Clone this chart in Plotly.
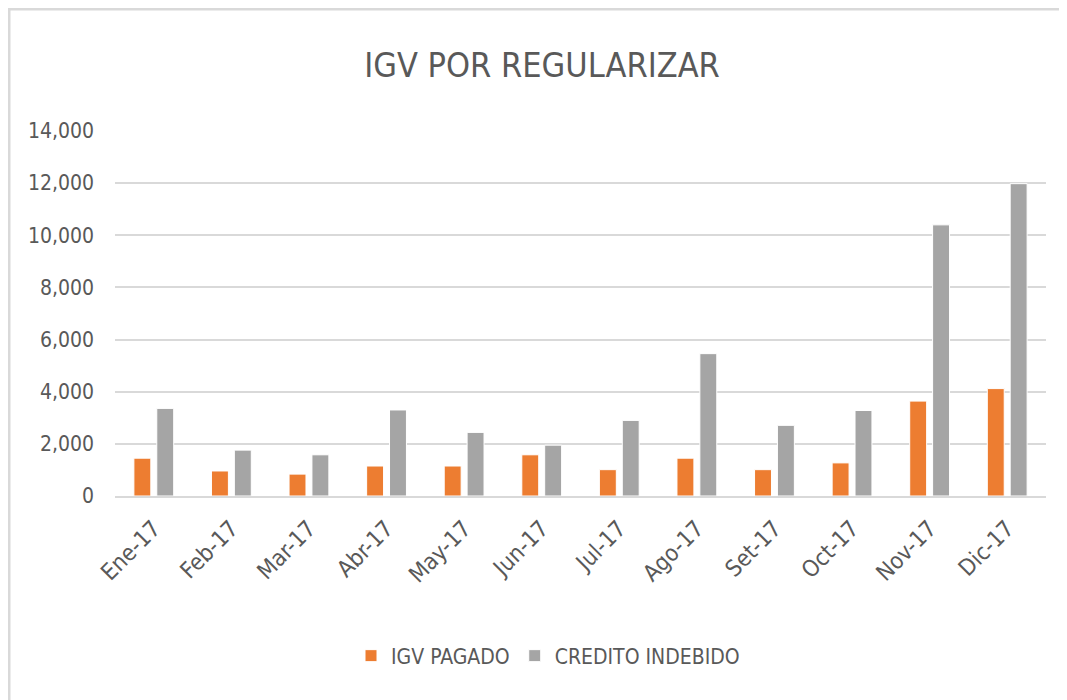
import plotly.graph_objects as go

months = ["Ene-17", "Feb-17", "Mar-17", "Abr-17", "May-17", "Jun-17",
          "Jul-17", "Ago-17", "Set-17", "Oct-17", "Nov-17", "Dic-17"]
igv_pagado = [1450, 960, 840, 1150, 1150, 1580, 1010, 1450, 1010, 1270, 3640, 4120]
credito_indebido = [3360, 1760, 1580, 3300, 2440, 1950, 2900, 5460, 2710, 3280, 10400, 11980]
y_ticks = [0, 2000, 4000, 6000, 8000, 10000, 12000, 14000]

FONT = "DejaVu Sans Condensed, Liberation Sans Narrow, Lato, sans-serif"
TXT = "#595959"

# page body has an 8px offset; plot area targeted at screen x 115..1046, y 131..496
L, T, R, B = 107, 123, 29, 212
PW = 1067 - L - R
PH = 700 - T - B

fig = go.Figure()
fig.add_trace(go.Bar(name="IGV PAGADO", x=months, y=igv_pagado,
                     marker=dict(color="#ED7D31", line=dict(color="white", width=1))))
fig.add_trace(go.Bar(name="CREDITO INDEBIDO", x=months, y=credito_indebido,
                     marker=dict(color="#A5A5A5", line=dict(color="white", width=1))))

fig.update_layout(
    width=1067, height=700,
    barmode="group", bargap=0.41, bargroupgap=0.26,
    paper_bgcolor="white", plot_bgcolor="white",
    margin=dict(l=L, r=R, t=T, b=B, autoexpand=False),
    title=dict(text="IGV POR REGULARIZAR", x=(542 - 8) / 1067, xref="container", xanchor="center",
               y=1 - 57 / 700, yanchor="middle",
               font=dict(family=FONT, size=34, color=TXT)),
    font=dict(family=FONT, color=TXT),
    showlegend=True,
    legend=dict(orientation="h", x=(548 - 8 - L) / PW, xanchor="center", xref="paper",
                y=-(656 - 8 - T - PH) / PH, yanchor="middle",
                font=dict(family=FONT, size=21, color=TXT),
                itemwidth=30, traceorder="normal"),
    yaxis=dict(range=[0, 14000], tickvals=y_ticks, tickformat=",d",
               showgrid=True, gridcolor="#D9D9D9", gridwidth=2,
               zeroline=False, showline=False, ticks="", automargin=False,
               tickfont=dict(family=FONT, size=21, color=TXT), ticklabelstandoff=20),
    xaxis=dict(tickangle=-45, showline=True, linecolor="#D9D9D9", linewidth=2,
               ticks="", automargin=False, ticklabelstandoff=8,
               tickfont=dict(family=FONT, size=23, color=TXT)),
    shapes=[dict(type="rect", xref="paper", yref="paper",
                 x0=-(L - 1) / PW, x1=1 + (R - 13) / PW, y0=-(B + 5) / PH, y1=1 + (T - 1) / PH,
                 line=dict(color="#D9D9D9", width=3), fillcolor="rgba(0,0,0,0)", layer="below")],
)

fig.write_html("out.html")
